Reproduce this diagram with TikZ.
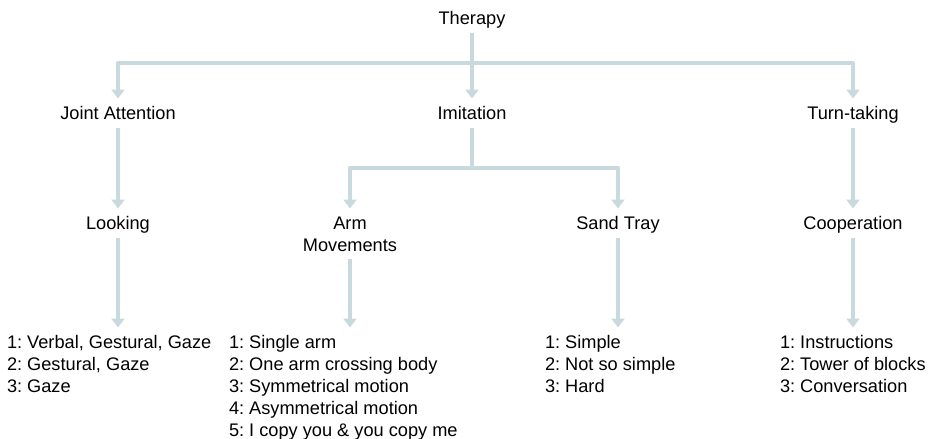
\documentclass[tikz,border=0pt]{standalone}
\usepackage{fontspec}
\setmainfont{Liberation Sans}
\usetikzlibrary{arrows.meta}
\definecolor{lienmau}{RGB}{200,218,221}
\frenchspacing
\begin{document}
\begin{tikzpicture}[x=0.5pt, y=-0.5pt, font=\fontsize{9.1}{11}\selectfont, line join=round,
	>={Triangle[width=6.5pt,length=4.5pt]},
	nhan/.style={inner sep=0pt, outer sep=4pt, text height=6.5pt, text depth=0pt},
	dsach/.style={inner sep=0pt, outer sep=4pt, align=left, anchor=north west},
	lien/.style={draw=lienmau, line width=2.3pt}]
	\useasboundingbox (0,0) rectangle (928,439);
	\path
	(472,18) node[nhan] (therapy) {Therapy}
	(118,113) node[nhan] (joint) {Joint Attention}
	(472,113) node[nhan] (imit) {Imitation}
	(853,113) node[nhan] (turn) {Turn-taking}
	(118,223) node[nhan] (look) {Looking}
	(350,208.5) node[inner sep=0pt, outer sep=4pt, align=center, anchor=north] (arm) {Arm\\Movements}
	(618,223) node[nhan] (sand) {Sand Tray}
	(853,223) node[nhan] (coop) {Cooperation}
	(-1,327.5) node[dsach] (looklist) {1: Verbal, Gestural, Gaze\\2: Gestural, Gaze\\3: Gaze}
	(221,327.5) node[dsach] (armlist) {1: Single arm\\2: One arm crossing body\\3: Symmetrical motion\\4: Asymmetrical motion\\5: I copy you \& you copy me}
	(537,327.5) node[dsach] (sandlist) {1: Simple\\2: Not so simple\\3: Hard}
	(772,327.5) node[dsach] (cooplist) {1: Instructions\\2: Tower of blocks\\3: Conversation};
	\coordinate (nga1) at (472,63); % nhánh trên
	\coordinate (nga2) at (472,168); % nhánh Imitation
	\draw[lien] (therapy)--(nga1);
	\draw[lien,->] (nga1) -| (joint);
	\draw[lien,->] (nga1)--(imit);
	\draw[lien,->] (nga1) -| (turn);
	\draw[lien,->] (joint)--(look);
	\draw[lien,->] (turn)--(coop);
	\draw[lien] (imit)--(nga2);
	\draw[lien,->] (nga2) -| (arm);
	\draw[lien,->] (nga2) -| (sand);
	\draw[lien,->] (look)--(look |- looklist.north);
	\draw[lien,->] (arm)--(arm |- armlist.north);
	\draw[lien,->] (sand)--(sand |- sandlist.north);
	\draw[lien,->] (coop)--(coop |- cooplist.north);
\end{tikzpicture}
\end{document}
